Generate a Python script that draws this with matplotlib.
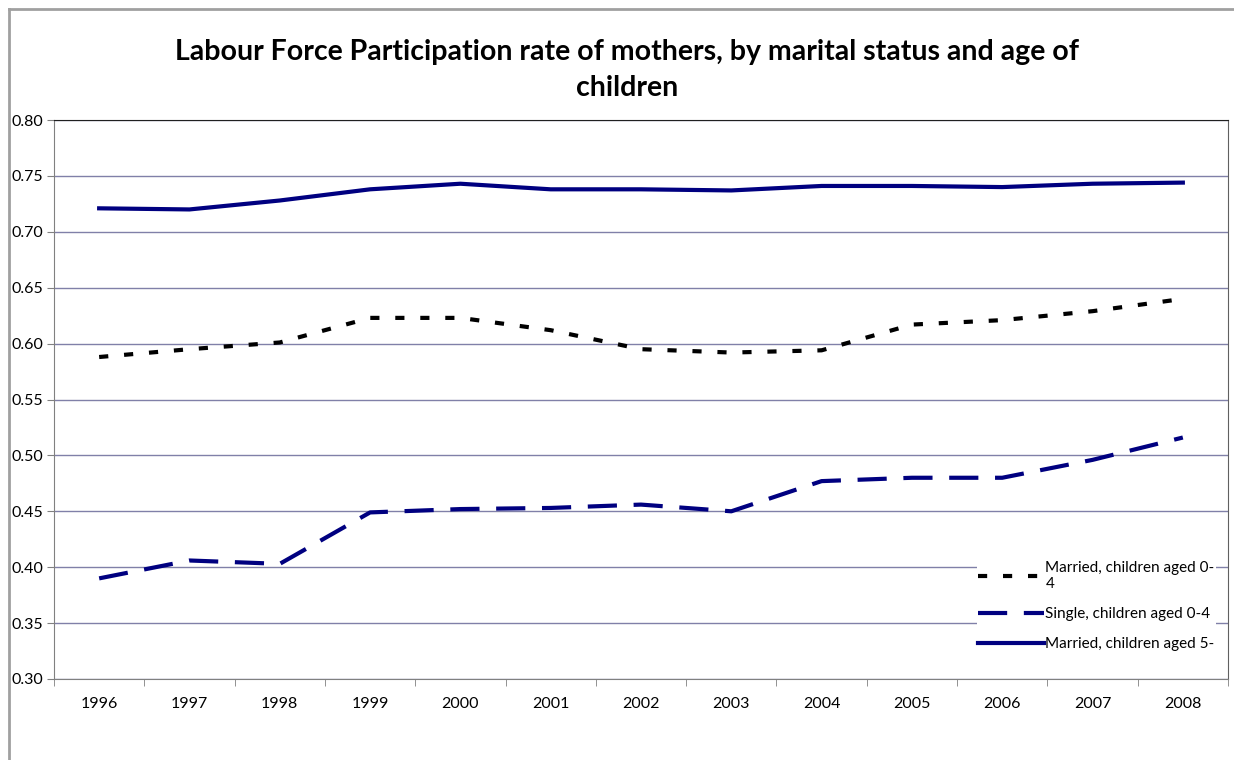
import numpy as np
import matplotlib
matplotlib.use('Agg')
import matplotlib.pyplot as plt
from matplotlib.lines import Line2D

# Data
years = ['1996', '1997', '1998', '1999', '2000', '2001', '2002',
         '2003', '2004', '2005', '2006', '2007', '2008']
married_0_4 = [0.588, 0.595, 0.601, 0.623, 0.623, 0.612, 0.595,
               0.592, 0.594, 0.617, 0.621, 0.629, 0.640]
single_0_4 = [0.390, 0.406, 0.403, 0.449, 0.452, 0.453, 0.456,
              0.450, 0.477, 0.480, 0.480, 0.496, 0.516]
married_5 = [0.721, 0.720, 0.728, 0.738, 0.743, 0.738, 0.738,
             0.737, 0.741, 0.741, 0.740, 0.743, 0.744]

legend = ['Married, children aged 0-\n4', 'Single, children aged 0-4',
          'Married, children aged 5-']

plt.rcParams['font.family'] = ['Lato', 'DejaVu Sans']
navy = '#000080'
grid_col = '#8080a8'

fig = plt.figure(figsize=(12.34, 7.60), dpi=100)
ax = fig.add_axes([54/1234, 81/760, (1228-54)/1234, (679-120)/760])

x = np.arange(len(years))
ax.plot(x, married_0_4, color='black', linewidth=3, linestyle=(0, (2.2, 3.8)),
        label=legend[0], dash_capstyle='butt')
ax.plot(x, single_0_4, color=navy, linewidth=3, linestyle=(0, (7, 4)),
        label=legend[1], dash_capstyle='butt')
ax.plot(x, married_5, color=navy, linewidth=3, linestyle='-',
        label=legend[2])

ax.set_xlim(-0.5, len(years) - 0.5)
ax.set_ylim(0.30, 0.80)
yt = np.arange(0.30, 0.801, 0.05)
ax.set_yticks(yt)
ax.set_yticklabels(['%.2f' % v for v in yt])
ax.set_xticks(x)
ax.set_xticklabels(years)
ax.set_xticks(np.arange(-0.5, len(years)), minor=True)
ax.tick_params(axis='x', which='major', length=0, pad=13, labelsize=11.5)
ax.tick_params(axis='x', which='minor', length=5, color='#808080')
ax.tick_params(axis='y', length=5, color='#808080', labelsize=11.5, pad=3)

ax.grid(axis='y', color=grid_col, linewidth=1)
ax.set_axisbelow(True)
for s in ['left', 'bottom']:
    ax.spines[s].set_color('#808080')
ax.spines['top'].set_color('#202020')
ax.spines['right'].set_color('#606060')

leg = ax.legend(loc='upper right', bbox_to_anchor=(0.99, 0.214), frameon=True,
                fontsize=11, handlelength=4.3, handletextpad=0.1,
                labelspacing=1.05, borderpad=0.1, borderaxespad=0)
leg.get_frame().set_edgecolor('none')
leg.get_frame().set_facecolor('white')
leg.get_frame().set_alpha(1)

fig.text(627/1234, 1 - 70/760, 'Labour Force Participation rate of mothers, by marital status and age of\nchildren',
         ha='center', va='center', fontsize=20.5, fontweight='bold',
         linespacing=1.45)

# Outer chart frame (top and left edges only visible)
fig.add_artist(Line2D([9/1234, 1.0], [1 - 9/760, 1 - 9/760],
                      transform=fig.transFigure, color='#a0a0a0', linewidth=2))
fig.add_artist(Line2D([9/1234, 9/1234], [0.0, 1 - 9/760],
                      transform=fig.transFigure, color='#a0a0a0', linewidth=2))

fig.savefig('out.png', dpi=100)
